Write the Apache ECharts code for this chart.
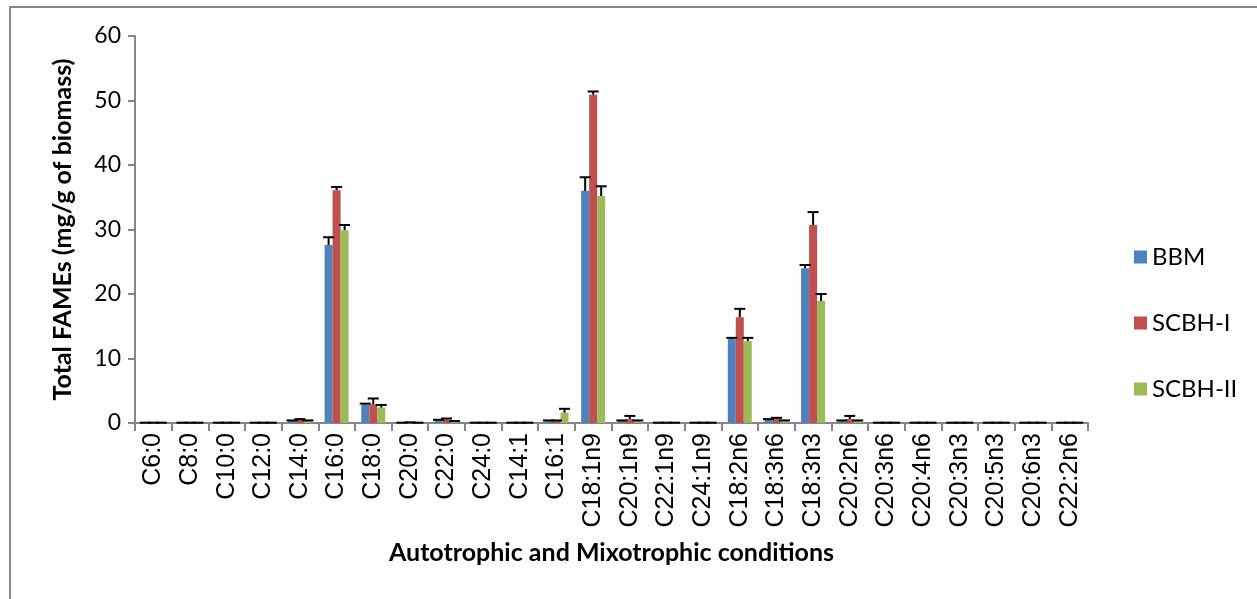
<!DOCTYPE html>
<html>
<head>
<meta charset="utf-8">
<script src="https://cdn.jsdelivr.net/npm/echarts@6/dist/echarts.min.js"></script>
<style>
  html, body { margin: 0; padding: 0; background: #fff; }
  #chart { width: 1257px; height: 599px; }
</style>
</head>
<body>
<div id="chart"></div>
<script>
// Fatty acid categories
const categories = ['C6:0','C8:0','C10:0','C12:0','C14:0','C16:0','C18:0','C20:0','C22:0','C24:0',
  'C14:1','C16:1','C18:1n9','C20:1n9','C22:1n9','C24:1n9','C18:2n6','C18:3n6','C18:3n3',
  'C20:2n6','C20:3n6','C20:4n6','C20:3n3','C20:5n3','C20:6n3','C22:2n6'];

const seriesNames = ['BBM', 'SCBH-I', 'SCBH-II'];

// Mean FAME content (mg/g of biomass)
const bbm    = [0.05,0.05,0.05,0.05,0.3,27.6,2.8,0.05,0.4,0.05,0.05,0.3,36.0,0.3,0.05,0.05,13.0,0.5,24.0,0.3,0.05,0.05,0.05,0.05,0.05,0.05];
const scbh1  = [0.05,0.05,0.05,0.05,0.5,36.1,2.9,0.1,0.5,0.05,0.05,0.3,50.9,0.6,0.05,0.05,16.4,0.6,30.7,0.6,0.05,0.05,0.05,0.05,0.05,0.05];
const scbh2  = [0.05,0.05,0.05,0.05,0.3,29.9,2.4,0.05,0.2,0.05,0.05,1.6,35.2,0.3,0.05,0.05,12.7,0.3,18.9,0.3,0.05,0.05,0.05,0.05,0.05,0.05];

// Standard deviations (upper error bars)
const bbmErr   = [0,0,0,0,0.1,1.2,0.2,0,0.1,0,0,0.1,2.1,0.1,0,0,0.2,0.1,0.5,0.1,0,0,0,0,0,0];
const scbh1Err = [0,0,0,0,0.1,0.5,0.9,0,0.2,0,0,0.1,0.5,0.5,0,0,1.3,0.2,2.0,0.5,0,0,0,0,0,0];
const scbh2Err = [0,0,0,0,0.1,0.8,0.4,0,0.1,0,0,0.6,1.5,0.1,0,0,0.5,0.1,1.1,0.1,0,0,0,0,0,0];

const yTicks = [0, 10, 20, 30, 40, 50, 60];

const colors = ['#4F81BD', '#C0504D', '#9BBB59'];
const values = [bbm, scbh1, scbh2];
const errors = [bbmErr, scbh1Err, scbh2Err];

const BAR_W = 8;
const CAP_W = 11;

function errorSeries(idx) {
  const offset = (idx - 1) * BAR_W;
  return {
    type: 'custom',
    name: seriesNames[idx],
    z: 5,
    silent: true,
    renderItem: function (params, api) {
      const x = api.value(0);
      const v = api.value(1);
      const e = api.value(2);
      const base = api.coord([x, v]);
      const top = api.coord([x, v + e]);
      const cx = base[0] + offset;
      return {
        type: 'group',
        children: [
          { type: 'line', shape: { x1: cx, y1: base[1], x2: cx, y2: top[1] },
            style: { stroke: '#000', lineWidth: 2 } },
          { type: 'line', shape: { x1: cx - CAP_W / 2, y1: top[1], x2: cx + CAP_W / 2, y2: top[1] },
            style: { stroke: '#000', lineWidth: 2 } }
        ]
      };
    },
    data: categories.map((c, i) => [i, values[idx][i], errors[idx][i]])
  };
}

const chart = echarts.init(document.getElementById('chart'));

const barSeries = seriesNames.map((n, i) => ({
  type: 'bar',
  name: n,
  data: values[i],
  barWidth: BAR_W,
  barGap: '0%',
  itemStyle: { color: colors[i] },
  z: 3
}));

chart.setOption({
  animation: false,
  backgroundColor: '#fff',
  graphic: [{
    type: 'rect',
    shape: { x: 10, y: 7, width: 1300, height: 700 },
    style: { fill: 'none', stroke: '#868686', lineWidth: 2 },
    z: 0
  }],
  legend: {
    orient: 'vertical',
    left: 1129,
    top: 240,
    itemWidth: 13,
    itemHeight: 13,
    itemGap: 42,
    icon: 'rect',
    data: seriesNames,
    textStyle: { fontFamily: 'Lato', fontSize: 24, color: '#000', padding: [0, 0, 0, 0] }
  },
  grid: { left: 135, right: 169, top: 36, bottom: 176 },
  xAxis: {
    type: 'category',
    data: categories,
    name: 'Autotrophic and Mixotrophic conditions',
    nameLocation: 'middle',
    nameGap: 117,
    nameTextStyle: { fontFamily: 'Lato', fontWeight: 'bold', fontSize: 25, color: '#000' },
    axisLine: { lineStyle: { color: '#868686', width: 2 } },
    axisTick: { show: true, length: 8, alignWithLabel: false, lineStyle: { color: '#868686', width: 2 } },
    axisLabel: { rotate: 90, interval: 0, margin: 10, fontFamily: 'Liberation Sans', fontSize: 25, color: '#000' }
  },
  yAxis: {
    type: 'value',
    min: 0,
    max: 60,
    interval: 10,
    name: 'Total FAMEs (mg/g of biomass)',
    nameLocation: 'middle',
    nameGap: 60,
    nameTextStyle: { fontFamily: 'Lato', fontWeight: 'bold', fontSize: 25, color: '#000' },
    axisLine: { show: true, lineStyle: { color: '#868686', width: 2 } },
    axisTick: { show: true, length: 7, lineStyle: { color: '#868686', width: 2 } },
    splitLine: { show: false },
    axisLabel: {
      margin: 14,
      fontFamily: 'Lato',
      fontSize: 23,
      color: '#000',
      formatter: v => (yTicks.includes(v) ? String(v) : '')
    }
  },
  series: [...barSeries, errorSeries(0), errorSeries(1), errorSeries(2)]
});
</script>
</body>
</html>
